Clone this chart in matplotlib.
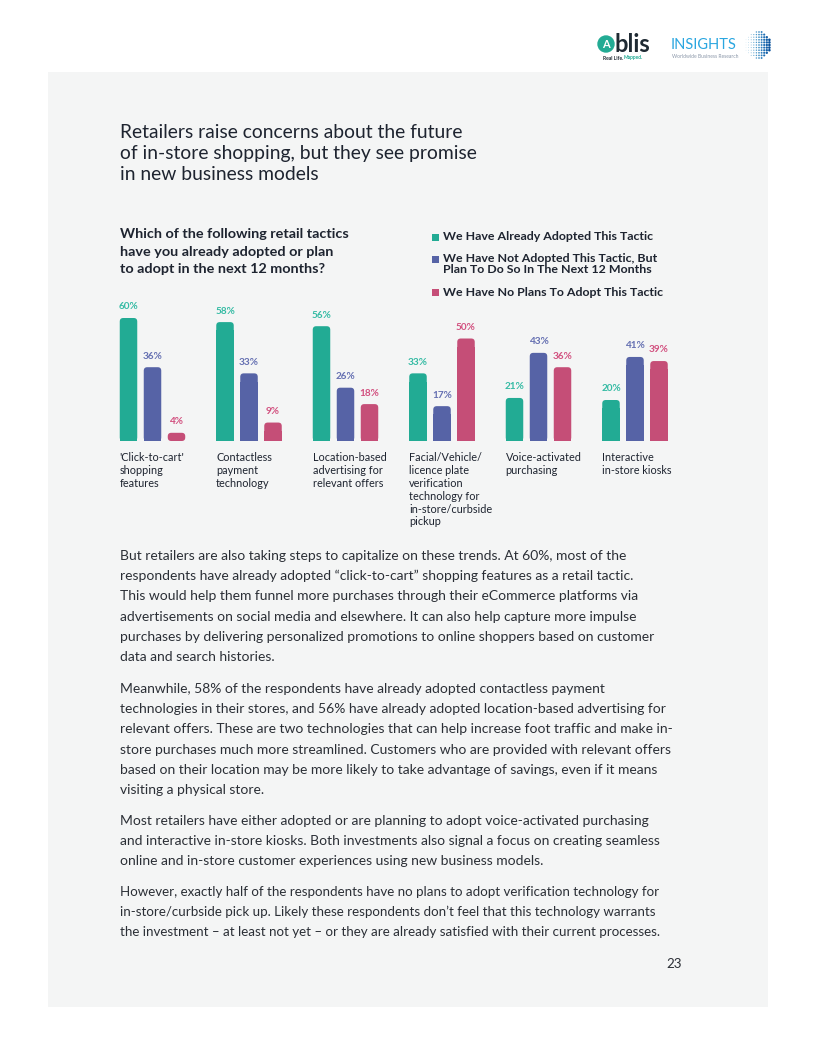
import numpy as np
import matplotlib.pyplot as plt
from matplotlib.patches import Rectangle, Circle, FancyBboxPatch

plt.rcParams['font.family'] = ['Lato', 'DejaVu Sans']

# Datos del gráfico
categorias = ["'Click-to-cart'\nshopping\nfeatures",
              "Contactless\npayment\ntechnology",
              "Location-based\nadvertising for\nrelevant offers",
              "Facial/Vehicle/\nlicence plate\nverification\ntechnology for\nin-store/curbside\npickup",
              "Voice-activated\npurchasing",
              "Interactive\nin-store kiosks"]
adoptado = [60, 58, 56, 33, 21, 20]
planea = [36, 33, 26, 17, 43, 41]
sin_planes = [4, 9, 18, 50, 36, 39]
series = ["We Have Already Adopted This Tactic",
          "We Have Not Adopted This Tactic, But\nPlan To Do So In The Next 12 Months",
          "We Have No Plans To Adopt This Tactic"]

colores = ["#22ab94", "#5663a6", "#c54e77"]
colores_txt = ["#35bba4", "#6570b2", "#d2507f"]

W, H = 816, 1056
fig = plt.figure(figsize=(W / 100, H / 100), dpi=100)
fig.patch.set_facecolor("white")

def px(x, y):
    return x / W, 1 - y / H

# Panel gris de fondo
fig.patches.append(Rectangle(px(48, 1007), 720 / W, 935 / H, transform=fig.transFigure,
                             facecolor="#f4f5f5", edgecolor="none", zorder=-5))

# Logos (aproximados)
bg = fig.add_axes([0, 0, 1, 1], facecolor="none", zorder=-1)
bg.set_xlim(0, W)
bg.set_ylim(H, 0)
bg.axis("off")
bg.add_patch(Circle((606, 44), 8, color="#22ab94"))
bg.text(606, 45, "A", color="white", fontsize=8, fontweight="bold", ha="center", va="center")
bg.text(614, 44, "blis", color="#1f2a33", fontsize=17, fontweight="bold", va="center")
bg.text(603, 58, "Real Life.", color="#1f2a33", fontsize=3.6, fontweight="bold", va="center")
bg.text(624, 58, "Mapped.", color="#22ab94", fontsize=3.6, fontweight="bold", va="center")
bg.text(671, 45, "INSIGHTS", color="#2aa6e0", fontsize=10.5, va="center")
bg.text(672, 57, "Worldwide Business Research", color="#8a96a8", fontsize=3.6, va="center")
gx, gy = np.meshgrid(np.arange(746, 772, 2.6), np.arange(32, 60, 2.6))
dentro = (gx - 758) ** 2 + (gy - 45) ** 2 < 13.5 ** 2
bg.scatter(gx[dentro], gy[dentro], s=(0.3 + (gx[dentro] - 744) / 12) ** 2 * 0.6,
           c=gx[dentro], cmap="Blues", vmin=730, vmax=775, linewidths=0)

# Título
titulo = ["Retailers raise concerns about the future",
          "of in-store shopping, but they see promise",
          "in new business models"]
for i, linea in enumerate(titulo):
    fig.text(*px(120, 133 + 21 * i), linea, fontsize=13.9, color="#1e2430", va="center")

# Pregunta
pregunta = ["Which of the following retail tactics",
            "have you already adopted or plan",
            "to adopt in the next 12 months?"]
for i, linea in enumerate(pregunta):
    fig.text(*px(120, 234 + 17.5 * i), linea, fontsize=10.4, fontweight="bold",
             color="#1e2430", va="center")

# Leyenda
ley_y = [237, 259, 292]
for c, s, y in zip(colores, series, ley_y):
    fig.patches.append(Rectangle(px(432, y + 4), 7 / W, 7 / H, transform=fig.transFigure,
                                 facecolor=c, edgecolor="none"))
    fig.text(*px(443, y - 6 if "\n" in s else y), s, fontsize=8.9, fontweight="bold",
             color="#1e2430", va="top" if "\n" in s else "center", linespacing=1.05)

# Gráfico de barras
x0 = 152.5
paso = 96.5
ax_l, ax_r = 100, 700
base, tope = 441, 300
escala = 2.05
ax = fig.add_axes([ax_l / W, 1 - base / H, (ax_r - ax_l) / W, (base - tope) / H])
ax.set_xlim((ax_l - x0) / paso, (ax_r - x0) / paso)
ax.set_ylim(0, (base - tope) / escala)
ax.axis("off")

x = np.arange(len(categorias))
ancho = 17.5 / paso
desp = 24 / paso
radio = 3.5 / paso
aspecto = paso / escala
for k, (vals, c, ct) in enumerate(zip([adoptado, planea, sin_planes], colores, colores_txt)):
    xs = x + (k - 1) * desp
    barras = ax.bar(xs, vals, width=ancho, color=c, edgecolor="none")
    # esquinas superiores redondeadas
    for b in barras:
        bx, bw, bh = b.get_x(), b.get_width(), b.get_height()
        b.set_height(max(bh - 4, 0))
        ax.add_patch(FancyBboxPatch((bx, 0), bw, bh,
                                    boxstyle=f"round,pad=0,rounding_size={radio}",
                                    mutation_aspect=aspecto, facecolor=c, edgecolor="none"))
    for xi, v in zip(xs, vals):
        ax.text(xi, v + 3.2, f"{v}%", ha="center", va="bottom", fontsize=7.2,
                fontweight="bold", color=ct)

for xi, lab in zip(x, categorias):
    ax.text(xi - desp - ancho / 2, -5.6, lab, ha="left", va="top", fontsize=7.8,
            color="#1e2430", linespacing=1.2, clip_on=False)

# Texto del cuerpo
parrafos = [
    ["But retailers are also taking steps to capitalize on these trends. At 60%, most of the",
     "respondents have already adopted “click-to-cart” shopping features as a retail tactic.",
     "This would help them funnel more purchases through their eCommerce platforms via",
     "advertisements on social media and elsewhere. It can also help capture more impulse",
     "purchases by delivering personalized promotions to online shoppers based on customer",
     "data and search histories."],
    ["Meanwhile, 58% of the respondents have already adopted contactless payment",
     "technologies in their stores, and 56% have already adopted location-based advertising for",
     "relevant offers. These are two technologies that can help increase foot traffic and make in-",
     "store purchases much more streamlined. Customers who are provided with relevant offers",
     "based on their location may be more likely to take advantage of savings, even if it means",
     "visiting a physical store."],
    ["Most retailers have either adopted or are planning to adopt voice-activated purchasing",
     "and interactive in-store kiosks. Both investments also signal a focus on creating seamless",
     "online and in-store customer experiences using new business models."],
    ["However, exactly half of the respondents have no plans to adopt verification technology for",
     "in-store/curbside pick up. Likely these respondents don’t feel that this technology warrants",
     "the investment – at least not yet – or they are already satisfied with their current processes."],
]
inicios = [556, 689, 821, 892]
tamanos = [10.0, 10.0, 10.0, 9.6]
for ini, par, t in zip(inicios, parrafos, tamanos):
    for i, linea in enumerate(par):
        fig.text(*px(120, ini + 20.2 * i), linea, fontsize=t, color="#2b2f36", va="center")

fig.text(*px(682, 964), "23", fontsize=9.6, color="#2b2f36", va="center", ha="right")

fig.savefig("out.png", dpi=100)
